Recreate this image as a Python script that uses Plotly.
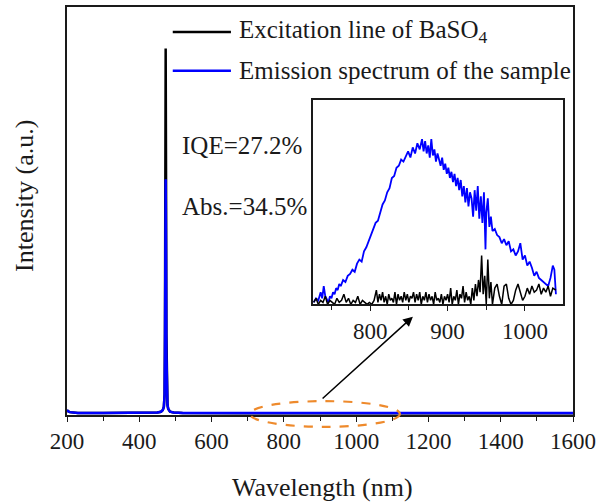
import plotly.graph_objects as go

# ---- main spectrum (normalised intensity) ----
main_wl = [200, 203, 208, 215, 230, 300, 400, 450, 460, 465, 468, 470, 471, 472, 473,
           474, 475, 476, 478, 480, 485, 495, 520, 700, 870, 1000, 1600]
main_black = [0.012, 0.009, 0.007, 0.006, 0.005, 0.005, 0.005, 0.006, 0.008, 0.012, 0.02,
              0.05, 0.2, 0.6, 0.898, 0.6, 0.2, 0.06, 0.025, 0.015, 0.008, 0.006, 0.005,
              0.004, 0.004, 0.004, 0.004]
main_blue = [0.012, 0.009, 0.007, 0.006, 0.005, 0.005, 0.005, 0.006, 0.008, 0.012, 0.02,
             0.05, 0.15, 0.4, 0.578, 0.4, 0.15, 0.05, 0.025, 0.015, 0.008, 0.006, 0.005,
             0.005, 0.005, 0.005, 0.005]

# ---- inset: emission of sample (blue) ----
ins_blue_wl = [727, 730, 733, 736, 738, 740, 742, 744, 746, 748, 750, 752, 754, 756, 758,
               760, 762, 765, 768, 771, 774, 777, 780, 783, 786, 789, 792, 795, 798, 801,
               804, 807, 810, 813, 816, 819, 822, 825, 828, 831, 834, 837, 840, 843, 846,
               849, 852, 855, 858, 861, 864, 867, 869, 871, 873, 875, 877, 879, 881, 883,
               885, 887, 889, 891, 893, 895, 897, 899, 901, 903, 905, 907, 909, 911, 913,
               915, 917, 919, 921, 923, 925, 927, 929, 931, 933, 935, 937, 939, 941, 943,
               945, 947, 949, 950, 952, 954, 956, 958, 961, 964, 967, 970, 973, 976, 979,
               982, 985, 988, 991, 994, 997, 1000, 1003, 1006, 1009, 1012, 1015, 1018,
               1021, 1024, 1027, 1030, 1033, 1036, 1038, 1040]
ins_blue = [0.01, 0.03, 0.02, 0.06, 0.03, 0.09, 0.04, 0.02, 0.01, 0.04, 0.03, 0.06, 0.05,
            0.08, 0.07, 0.10, 0.09, 0.12, 0.11, 0.14, 0.15, 0.17, 0.16, 0.20, 0.22, 0.21,
            0.26, 0.28, 0.31, 0.33, 0.37, 0.40, 0.41, 0.45, 0.49, 0.51, 0.55, 0.57, 0.62,
            0.63, 0.67, 0.68, 0.71, 0.70, 0.73, 0.75, 0.72, 0.77, 0.74, 0.79, 0.76, 0.81,
            0.75, 0.80, 0.74, 0.78, 0.72, 0.81, 0.73, 0.76, 0.70, 0.74, 0.71, 0.68, 0.72,
            0.66, 0.69, 0.64, 0.67, 0.62, 0.65, 0.60, 0.64, 0.58, 0.62, 0.56, 0.61, 0.53,
            0.58, 0.50, 0.57, 0.48, 0.55, 0.52, 0.43, 0.56, 0.46, 0.58, 0.42, 0.53, 0.40,
            0.55, 0.27, 0.45, 0.52, 0.38, 0.43, 0.36, 0.37, 0.34, 0.33, 0.30, 0.32, 0.29,
            0.31, 0.26, 0.27, 0.24, 0.26, 0.30, 0.22, 0.24, 0.19, 0.21, 0.18, 0.14, 0.16,
            0.13, 0.12, 0.11, 0.10, 0.09, 0.13, 0.19, 0.17, 0.05]

# ---- inset: excitation line of BaSO4 (black) ----
ins_black_wl = [727, 730, 733, 736, 739, 742, 745, 748, 751, 754, 757, 760, 763, 766, 769,
                772, 775, 778, 781, 784, 787, 790, 793, 796, 799, 802, 805, 808, 810, 812,
                814, 816, 818, 820, 822, 824, 826, 828, 830, 832, 834, 836, 838, 840, 842,
                844, 846, 848, 850, 852, 854, 856, 858, 860, 862, 864, 866, 868, 870, 872,
                874, 876, 878, 880, 882, 884, 886, 888, 890, 892, 894, 896, 898, 900, 902,
                904, 906, 908, 910, 912, 914, 916, 918, 920, 922, 924, 926, 928, 930, 932,
                934, 936, 938, 940, 942, 944, 946, 948, 950, 952, 954, 956, 958, 961, 964,
                967, 970, 973, 976, 979, 982, 985, 988, 991, 994, 997, 1000, 1003, 1006,
                1009, 1012, 1015, 1018, 1021, 1024, 1027, 1030, 1033, 1036, 1040]
ins_black = [0.01, 0.03, 0.00, 0.02, 0.01, 0.04, 0.00, 0.02, 0.01, 0.00, 0.03, 0.01, 0.02,
             0.05, 0.01, 0.03, 0.00, 0.02, 0.01, 0.04, 0.00, 0.02, 0.01, 0.00, 0.01, 0.00,
             0.02, 0.07, 0.01, 0.05, 0.02, 0.06, 0.01, 0.04, 0.00, 0.05, 0.02, 0.03, 0.01,
             0.06, 0.00, 0.05, 0.02, 0.04, 0.01, 0.06, 0.02, 0.05, 0.01, 0.04, 0.03, 0.06,
             0.01, 0.05, 0.02, 0.06, 0.00, 0.04, 0.02, 0.06, 0.01, 0.05, 0.02, 0.04, 0.00,
             0.06, 0.02, 0.03, 0.01, 0.05, 0.00, 0.04, 0.02, 0.05, 0.01, 0.08, 0.00, 0.04,
             0.02, 0.07, 0.00, 0.05, 0.03, 0.09, 0.01, 0.06, 0.02, 0.04, 0.00, 0.08, 0.02,
             0.10, 0.04, 0.12, 0.06, 0.24, 0.05, 0.14, 0.00, 0.22, 0.03, 0.11, 0.00, 0.08,
             0.10, 0.04, 0.00, 0.09, 0.10, 0.03, 0.00, 0.02, 0.07, 0.10, 0.06, 0.02, 0.04,
             0.08, 0.05, 0.09, 0.06, 0.07, 0.10, 0.05, 0.08, 0.06, 0.09, 0.04, 0.08, 0.07]

main_ticks = [200, 400, 600, 800, 1000, 1200, 1400, 1600]
inset_ticks = [800, 900, 1000]

legend_labels = ["Excitation line of BaSO<sub>4</sub>", "Emission spectrum of the sample"]
notes = ["IQE=27.2%", "Abs.=34.5%"]

FONT = "Liberation Serif"
TXT = "#1a1a1a"
BLUE = "#0000ff"
BLACK = "#000000"
ORANGE = "#ee8a2c"

fig = go.Figure()
fig.add_trace(go.Scatter(x=main_wl, y=main_black, mode="lines",
                         line=dict(color=BLACK, width=2.5), showlegend=False))
fig.add_trace(go.Scatter(x=main_wl, y=main_blue, mode="lines",
                         line=dict(color=BLUE, width=2.5), showlegend=False))
fig.add_trace(go.Scatter(x=ins_blue_wl, y=ins_blue, mode="lines", xaxis="x2", yaxis="y2",
                         line=dict(color=BLUE, width=1.8), showlegend=False))
fig.add_trace(go.Scatter(x=ins_black_wl, y=ins_black, mode="lines", xaxis="x2", yaxis="y2",
                         line=dict(color=BLACK, width=1.5), showlegend=False))

fig.update_layout(
    width=603, height=502,
    margin=dict(l=67, r=30, t=5, b=87),
    paper_bgcolor="white", plot_bgcolor="white",
    font=dict(family=FONT, color=TXT, size=23),
    xaxis=dict(range=[200, 1600], tickvals=main_ticks, ticks="outside", ticklen=5,
               tickwidth=1.3, tickcolor=TXT,
               minor=dict(dtick=100, tick0=200, ticks="outside", ticklen=4, tickwidth=1.3,
                          tickcolor=TXT),
               showline=True, linecolor=TXT, linewidth=1.5, mirror=True,
               showgrid=False, zeroline=False,
               tickfont=dict(size=23, family=FONT, color=TXT)),
    yaxis=dict(range=[0, 1], showticklabels=False, ticks="", showline=True,
               linecolor=TXT, linewidth=1.5, mirror=True, showgrid=False, zeroline=False),
    xaxis2=dict(domain=[0.486, 0.980], anchor="y2", range=[726, 1049],
                tickvals=inset_ticks, ticks="outside", ticklen=5, tickwidth=1.3,
                tickcolor=TXT,
                minor=dict(dtick=50, tick0=750, ticks="outside", ticklen=4, tickwidth=1.3,
                           tickcolor=TXT),
                showline=True, linecolor=TXT, linewidth=1.5, mirror=True,
                showgrid=False, zeroline=False,
                tickfont=dict(size=23, family=FONT, color=TXT)),
    yaxis2=dict(domain=[0.271, 0.771], anchor="x2", range=[0, 1],
                showticklabels=False, ticks="", showline=True, linecolor=TXT,
                linewidth=1.5, mirror=True, showgrid=False, zeroline=False),
)

# legend (drawn manually)
leg_y = [0.939, 0.844]
leg_col = [BLACK, BLUE]
for yy, col, lab in zip(leg_y, leg_col, legend_labels):
    fig.add_shape(type="line", xref="paper", yref="paper", x0=0.209, x1=0.324,
                  y0=yy, y1=yy, line=dict(color=col, width=2.5))
    fig.add_annotation(xref="paper", yref="paper", x=0.336, y=yy, text=lab,
                       showarrow=False, xanchor="left", yanchor="middle",
                       font=dict(size=25, family=FONT, color=TXT))

# IQE / Abs notes
for yy, t in zip([0.661, 0.512], notes):
    fig.add_annotation(xref="paper", yref="paper", x=0.223, y=yy, text=t,
                       showarrow=False, xanchor="left", yanchor="middle",
                       font=dict(size=25, family=FONT, color=TXT))

# axis titles
fig.add_annotation(xref="paper", yref="paper", x=0.504, y=-0.178, text="Wavelength (nm)",
                   showarrow=False, xanchor="center", yanchor="middle",
                   font=dict(size=26, family=FONT, color=TXT))
fig.add_annotation(xref="paper", yref="paper", x=-0.083, y=0.537, text="Intensity (a.u.)",
                   textangle=-90, showarrow=False, xanchor="center", yanchor="middle",
                   font=dict(size=26, family=FONT, color=TXT))

# orange dashed ellipse marking the zoomed region
fig.add_shape(type="circle", xref="x", yref="paper", x0=706, x1=1121, y0=-0.029, y1=0.034,
              line=dict(color=ORANGE, width=2.2, dash="dash"))

# arrow to inset
fig.add_annotation(xref="x", yref="y", axref="x", ayref="y",
                   x=1157, y=0.241, ax=903, ay=0.037, text="", showarrow=True,
                   arrowhead=2, arrowsize=1.3, arrowwidth=1.5, arrowcolor=BLACK)

fig.write_html("out.html")
